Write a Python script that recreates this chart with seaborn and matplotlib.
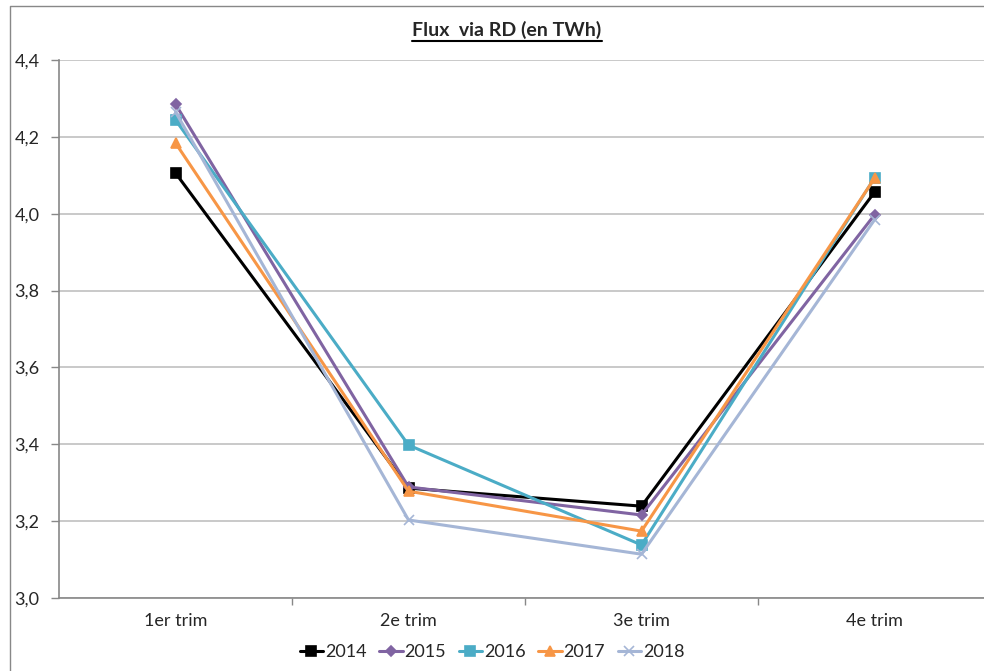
import numpy as np
import pandas as pd
import seaborn as sns
import matplotlib.pyplot as plt
from matplotlib.lines import Line2D

# data
trimestres = ['1er trim', '2e trim', '3e trim', '4e trim']
flux_2014 = [4.106, 3.286, 3.239, 4.056]
flux_2015 = [4.285, 3.289, 3.216, 3.997]
flux_2016 = [4.244, 3.398, 3.138, 4.093]
flux_2017 = [4.184, 3.278, 3.174, 4.092]
flux_2018 = [4.265, 3.203, 3.114, 3.984]
annees = ['2014', '2015', '2016', '2017', '2018']
yticks = [3.0, 3.2, 3.4, 3.6, 3.8, 4.0, 4.2, 4.4]
ytick_labels = ['3,0', '3,2', '3,4', '3,6', '3,8', '4,0', '4,2', '4,4']

series = [flux_2014, flux_2015, flux_2016, flux_2017, flux_2018]
rows = []
for an, vals in zip(annees, series):
    for i, v in enumerate(vals):
        rows.append({'trim': i, 'annee': an, 'flux': v})
df = pd.DataFrame(rows)

couleurs = {'2014': '#000000', '2015': '#8064a2', '2016': '#4bacc6',
            '2017': '#f79646', '2018': '#a5b6d6'}
marqueurs = {'2014': 's', '2015': 'D', '2016': 's', '2017': '^', '2018': 'x'}
tailles = {'2014': 6.5, '2015': 5, '2016': 6.5, '2017': 7, '2018': 7}

sns.set_style('white')
plt.rcParams['font.family'] = ['Lato', 'DejaVu Sans']

W, H = 984, 671
fig = plt.figure(figsize=(W / 100, H / 100), dpi=100)
ax = fig.add_axes([59 / W, (H - 598) / H, 932 / W, 538 / H])

# one call per year so filled and line-art markers can be mixed
for an in annees:
    sns.lineplot(data=df[df['annee'] == an], x='trim', y='flux',
                 color=couleurs[an], marker=marqueurs[an],
                 markersize=tailles[an], markeredgecolor=couleurs[an],
                 markeredgewidth=1.2, linewidth=2.2, ax=ax)

ax.set_xlim(-0.5, 3.5)
ax.set_ylim(3.0, 4.4)
ax.set_yticks(yticks)
ax.set_yticklabels(ytick_labels)
ax.set_xticks(range(len(trimestres)))
ax.set_xticklabels(trimestres)
ax.set_xticks([0.5, 1.5, 2.5], minor=True)
ax.set_xlabel('')
ax.set_ylabel('')

ax.grid(axis='y', color='#c0c0c0', linewidth=1.2)
ax.set_axisbelow(True)
for s in ['top', 'right']:
    ax.spines[s].set_visible(False)
for s in ['left', 'bottom']:
    ax.spines[s].set_color('#888888')
    ax.spines[s].set_linewidth(1.2)
ax.tick_params(axis='y', which='major', left=True, length=6, width=1,
               color='#888888', labelsize=13, pad=8)
ax.tick_params(axis='x', which='major', bottom=False, labelsize=13, pad=7)
ax.tick_params(axis='x', which='minor', bottom=True, length=5, width=1,
               color='#888888')

# legend
handles = [Line2D([], [], color=couleurs[a], marker=marqueurs[a],
                  markersize=tailles[a], linewidth=2.2, markeredgewidth=1.2)
           for a in annees]
fig.legend(handles, annees, loc='center', bbox_to_anchor=(492 / W, 19 / H),
           ncol=5, frameon=False, fontsize=13, handlelength=1.3,
           handletextpad=0.1, columnspacing=0.7)

# title, underlined
titre = fig.text(507 / W, (H - 30) / H, 'Flux  via RD (en TWh)',
                 ha='center', va='center', fontsize=14, fontweight='bold')
fig.canvas.draw()
bb = titre.get_window_extent().transformed(fig.transFigure.inverted())
fig.add_artist(Line2D([bb.x0, bb.x1], [bb.y0 - 1.5 / H, bb.y0 - 1.5 / H],
                      color='black', linewidth=1.5, transform=fig.transFigure))

# chart area border
fig.add_artist(Line2D([10 / W, 10 / W, 1.0], [0, (H - 6) / H, (H - 6) / H],
                      color='#888888', linewidth=1, transform=fig.transFigure))

fig.savefig('out.png', dpi=100)
